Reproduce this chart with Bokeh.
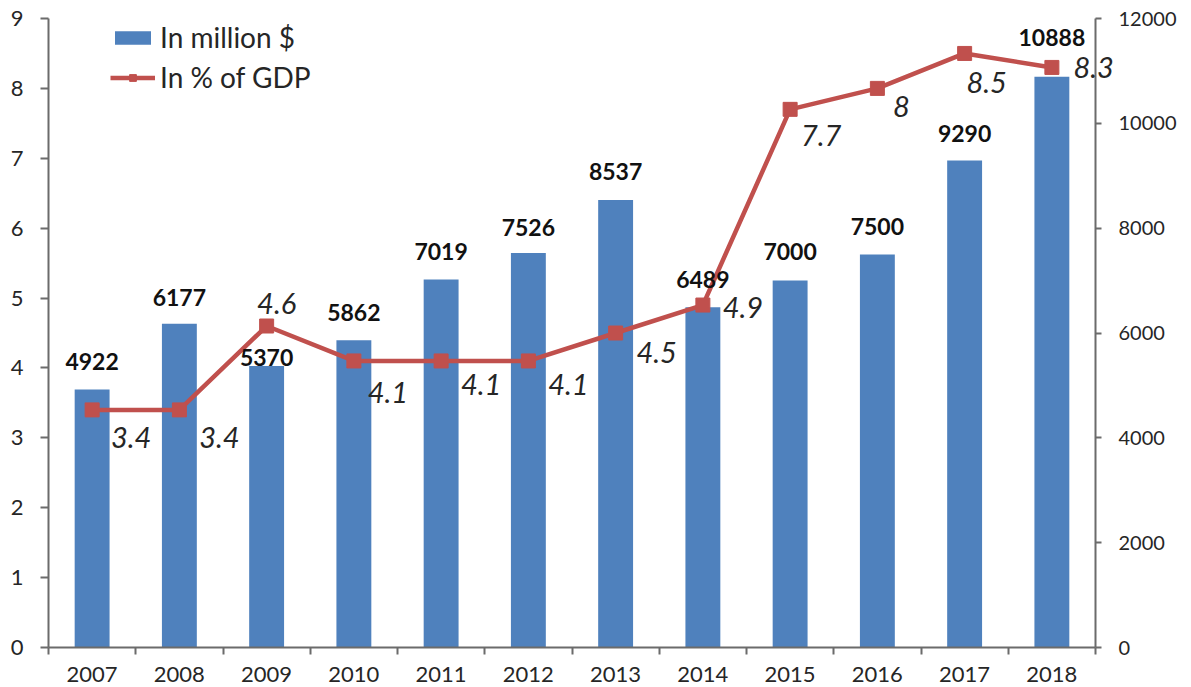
from bokeh.plotting import figure
from bokeh.models import (ColumnDataSource, Range1d, LinearAxis, FixedTicker,
                          Legend, LegendItem, LabelSet)
from bokeh.core.properties import value
from bokeh.embed import file_html
from bokeh.resources import INLINE

# ---------------- data ----------------
years = ["2007", "2008", "2009", "2010", "2011", "2012",
         "2013", "2014", "2015", "2016", "2017", "2018"]
million_usd = [4922, 6177, 5370, 5862, 7019, 7526, 8537, 6489, 7000, 7500, 9290, 10888]
pct_gdp = [3.4, 3.4, 4.6, 4.1, 4.1, 4.1, 4.5, 4.9, 7.7, 8, 8.5, 8.3]
left_ticks = [0, 1, 2, 3, 4, 5, 6, 7, 8, 9]
right_ticks = [0, 2000, 4000, 6000, 8000, 10000, 12000]

# ---------------- label placement (style, pixels) ----------------
bar_label_dy = [28, 26, 9, 28, 28, 26, 29, 28, 29, 28, 27, 39]
pct_label_dx = [39, 40, 10, 34, 40, 40, 41, 40, 31, 24, 22]
pct_label_dy = [-28, -28, 23, -32, -24, -24, -19, -2, -26, -18, -29]

FONT = "Lato"
BLUE = "#4F81BD"
RED = "#C0504D"
AXIS = "#6b6b6b"
TXT = "#262626"

n = len(years)
xs = list(range(n))

src = ColumnDataSource(dict(
    x=xs, m=million_usd, p=pct_gdp,
    mtxt=[str(v) for v in million_usd],
    bdy=bar_label_dy,
))
# percentage labels inside the plot area (the last one overlaps the right axis
# and is drawn as the single tick label of an extra, line-less right axis)
psrc = ColumnDataSource(dict(
    x=xs[:-1], p=pct_gdp[:-1], ptxt=["%g" % v for v in pct_gdp[:-1]],
    pdx=pct_label_dx, pdy=pct_label_dy,
))

p = figure(width=1191, height=687, output_backend="svg", toolbar_location=None,
           x_range=Range1d(-0.5, n - 0.5), y_range=Range1d(0, 9),
           min_border_left=48, min_border_right=96, min_border_top=18,
           min_border_bottom=40)
p.extra_y_ranges = {"right": Range1d(0, 12000)}
p.outline_line_color = None
p.xgrid.visible = False
p.ygrid.visible = False
p.background_fill_color = "white"
p.border_fill_color = "white"

bars = p.vbar(x="x", top="m", width=0.4, source=src, y_range_name="right",
              fill_color=BLUE, line_color=None)
line = p.line(x="x", y="p", source=src, line_color=RED, line_width=4.5)
pts = p.scatter(x="x", y="p", source=src, marker="square", size=14,
                fill_color=RED, line_color=RED)

bar_labels = LabelSet(x="x", y="m", text="mtxt", source=src, y_range_name="right",
                      y_offset="bdy", text_align="center", text_baseline="middle",
                      text_font=value(FONT), text_font_style="bold",
                      text_font_size="23px", text_color="#111111")
pct_labels = LabelSet(x="x", y="p", text="ptxt", source=psrc,
                      x_offset="pdx", y_offset="pdy", text_align="center",
                      text_baseline="middle", text_font=value(FONT),
                      text_font_style="italic", text_font_size="29px",
                      text_color=TXT)
p.add_layout(bar_labels)
p.add_layout(pct_labels)

# x axis
xa = p.xaxis[0]
xa.ticker = FixedTicker(ticks=xs, minor_ticks=[i - 0.5 for i in range(n + 1)])
xa.major_label_overrides = {i: y for i, y in enumerate(years)}
xa.major_tick_out = 0
xa.major_tick_in = 0
xa.minor_tick_out = 7
xa.minor_tick_in = 0
xa.minor_tick_line_color = AXIS
xa.minor_tick_line_width = 2
xa.axis_line_color = AXIS
xa.axis_line_width = 2
xa.major_label_standoff = 12
xa.major_label_text_font = FONT
xa.major_label_text_font_size = "22px"
xa.major_label_text_color = TXT

# left axis
ya = p.yaxis[0]
ya.ticker = FixedTicker(ticks=left_ticks)
ya.major_tick_out = 8
ya.major_tick_in = 0
ya.minor_tick_line_color = None
ya.major_tick_line_color = AXIS
ya.major_tick_line_width = 2
ya.axis_line_color = AXIS
ya.axis_line_width = 2
ya.major_label_standoff = 17
ya.major_label_text_font = FONT
ya.major_label_text_font_size = "22px"
ya.major_label_text_color = TXT

# right axis
ra = LinearAxis(y_range_name="right", ticker=FixedTicker(ticks=right_ticks))
ra.major_tick_out = 6
ra.major_tick_in = 0
ra.minor_tick_line_color = None
ra.major_tick_line_color = AXIS
ra.major_tick_line_width = 2
ra.axis_line_color = AXIS
ra.axis_line_width = 2
ra.major_label_standoff = 17
ra.major_label_text_font = FONT
ra.major_label_text_font_size = "20px"
ra.major_label_text_color = TXT
p.add_layout(ra, "right")

# last percentage label, crossing the right axis line
la = LinearAxis(ticker=FixedTicker(ticks=[pct_gdp[-1]]))
la.axis_line_color = None
la.major_tick_line_color = None
la.minor_tick_line_color = None
la.major_tick_out = 0
la.major_tick_in = 0
la.major_label_standoff = -106
la.major_label_text_font = FONT
la.major_label_text_font_style = "italic"
la.major_label_text_font_size = "29px"
la.major_label_text_color = TXT
p.add_layout(la, "right")

legend = Legend(items=[LegendItem(label="In million $", renderers=[bars]),
                       LegendItem(label="In % of GDP", renderers=[line, pts])],
                location=(62, 553), margin=0, padding=0, spacing=6,
                glyph_width=45, glyph_height=17, label_standoff=5,
                label_text_font=FONT, label_text_font_size="28px",
                label_text_color=TXT, background_fill_alpha=0,
                border_line_alpha=0)
p.add_layout(legend)

open("out.html", "w").write(file_html(p, INLINE))
